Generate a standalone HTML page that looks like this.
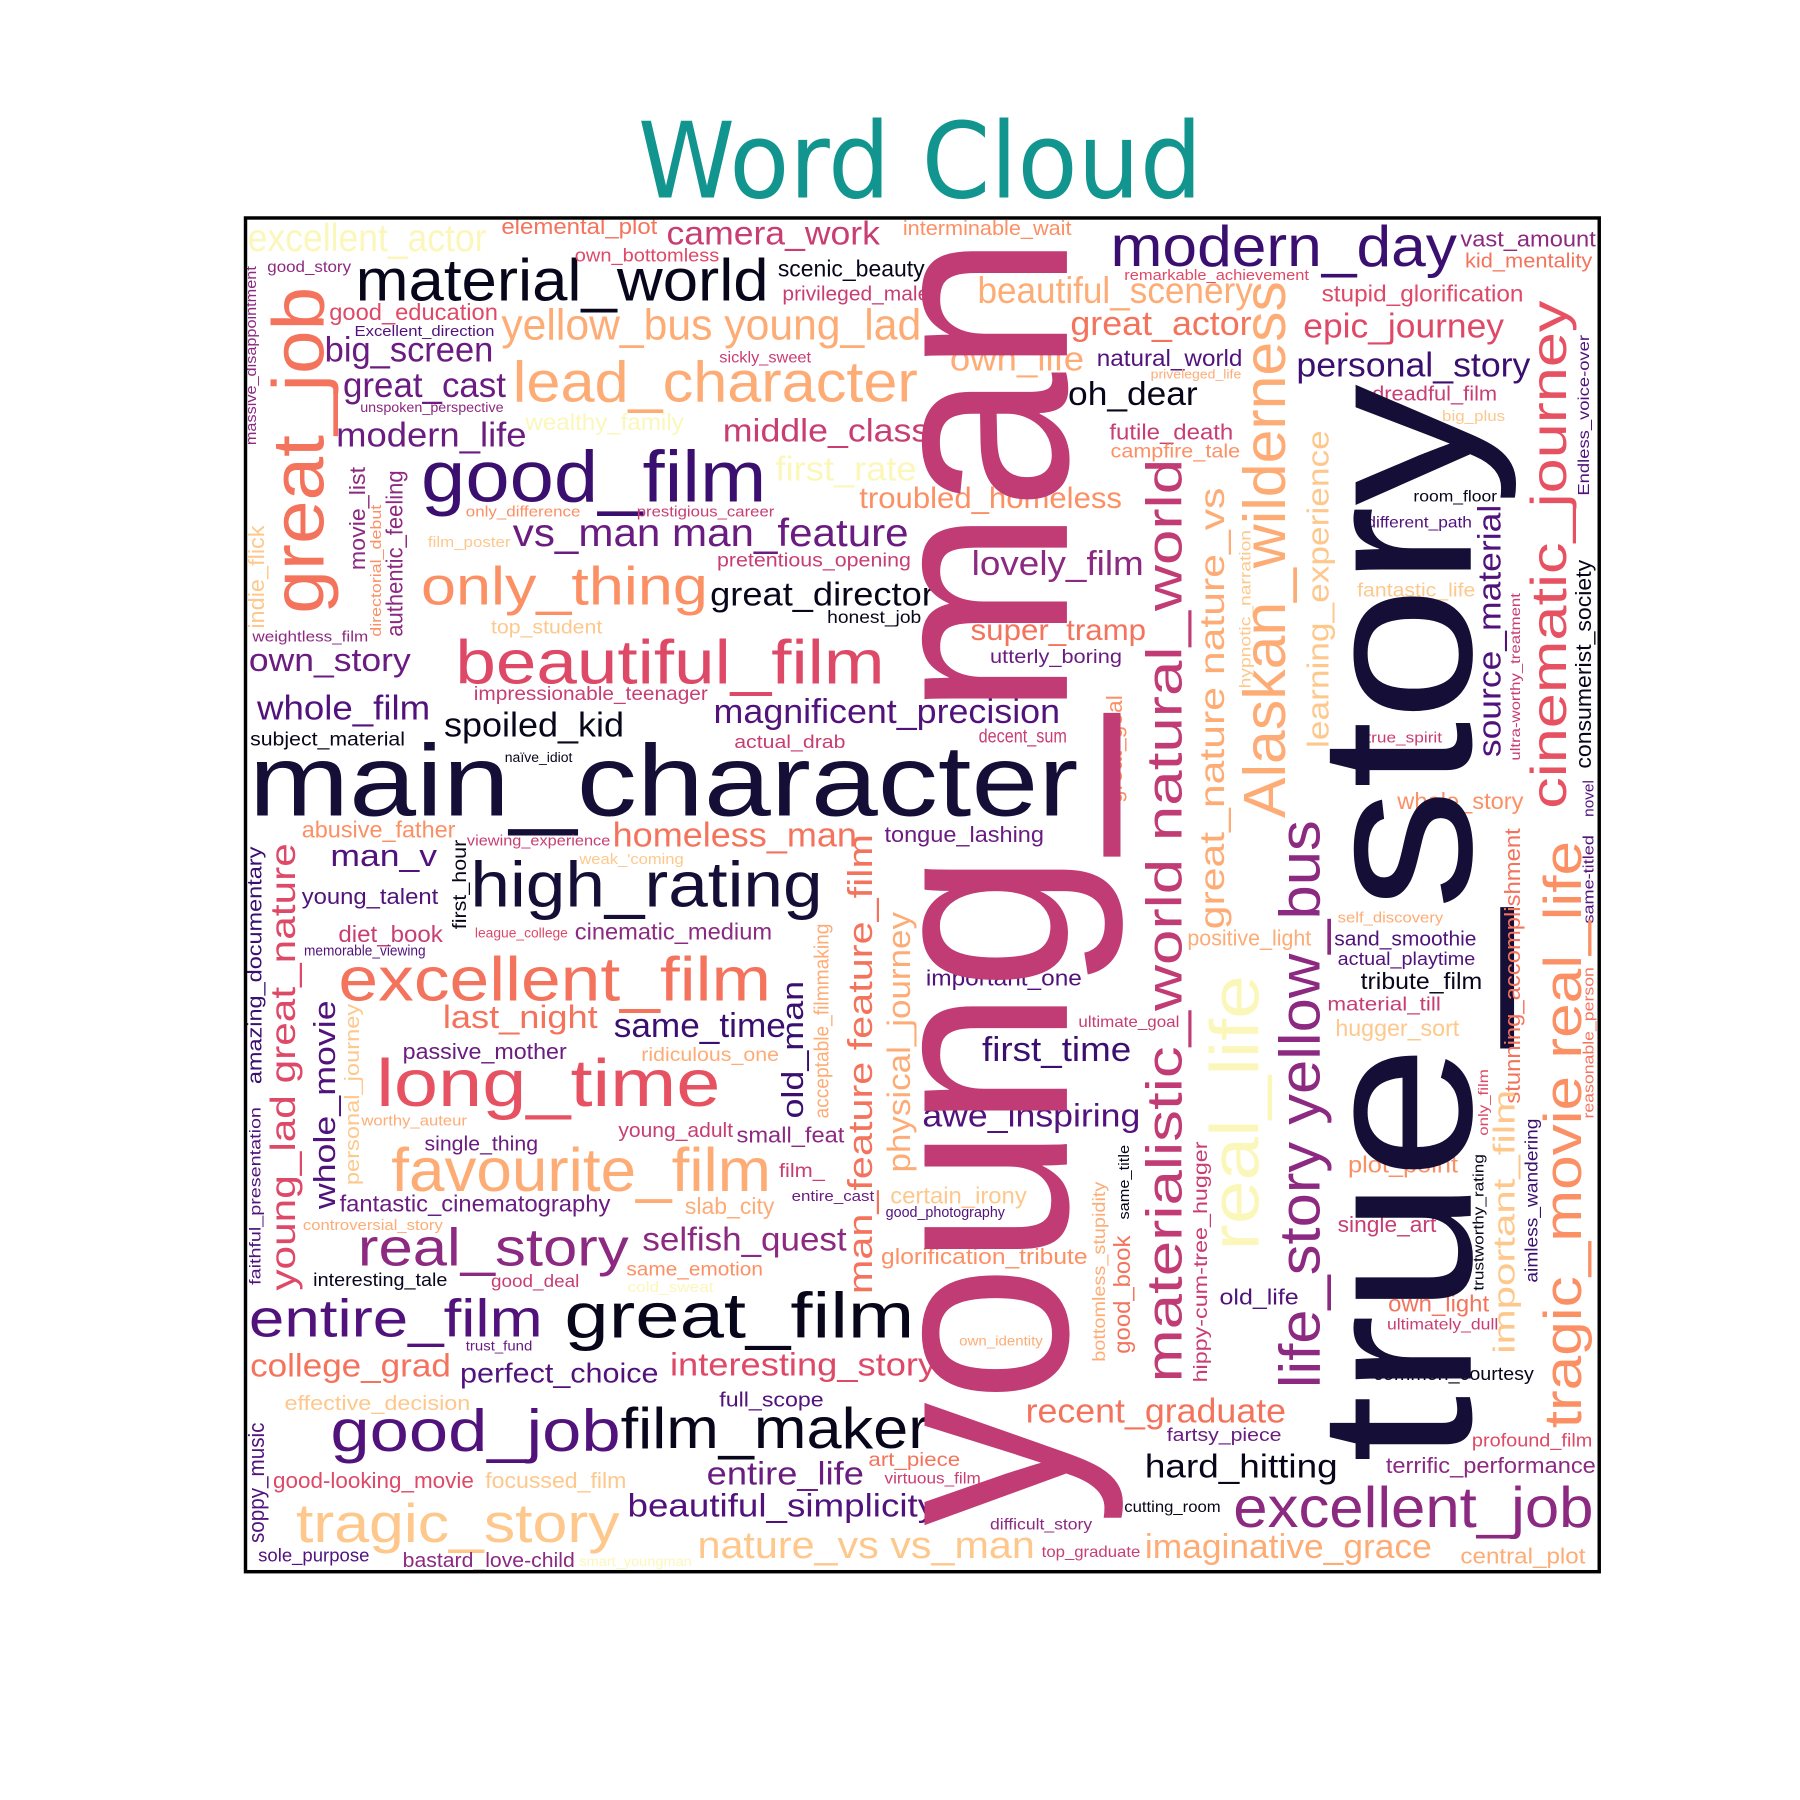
<!DOCTYPE html>
<html><head><meta charset="utf-8">
<style>
html,body{margin:0;padding:0;background:#fff;width:1800px;height:1800px;overflow:hidden}
svg{display:block}
text{font-family:"Liberation Sans","DejaVu Sans",sans-serif}
</style></head>
<body>
<svg id="chart" width="1800" height="1800" viewBox="0 0 1569 1569" xmlns="http://www.w3.org/2000/svg">
<rect x="0" y="0" width="1569" height="1569" fill="#fff"/>
<text x="802" y="172" text-anchor="middle" font-size="92" fill="#12958f" textLength="492" lengthAdjust="spacingAndGlyphs" style="font-family:'DejaVu Sans','Liberation Sans',sans-serif">Word Cloud</text>
<g id="words"></g>
<rect x="214" y="190" width="1180" height="1180" fill="none" stroke="#000" stroke-width="3"/>
</svg>
<script>
const C={D:"#150e37",K:"#08061a",P1:"#3b0f70",P2:"#51127c",P3:"#6a1c81",M1:"#8c2981",M2:"#c13b75",R1:"#c83e73",R2:"#de4968",R3:"#e75263",O1:"#f4735c",O2:"#fc9065",O3:"#feac76",Y1:"#fec88c",Y2:"#fbf7bb"};
// horizontal words: text, left x, baseline y, size, color, width
const hText=["excellent_actor","elemental_plot","camera_work","interminable_wait","modern_day","vast_amount","kid_mentality","good_story","material_world","own_bottomless","scenic_beauty","privileged_male","remarkable_achievement","beautiful_scenery","stupid_glorification","good_education","Excellent_direction","yellow_bus young_lad","great_actor","epic_journey","big_screen","sickly_sweet","own_life","natural_world","personal_story","priveleged_life","great_cast","lead_character","oh_dear","dreadful_film","unspoken_perspective","big_plus","wealthy_family","modern_life","middle_class","futile_death","campfire_tale","good_film","first_rate","troubled_homeless","room_floor","only_difference","prestigious_career","different_path","film_poster","vs_man man_feature","pretentious_opening","lovely_film","only_thing","great_director","fantastic_life","honest_job","top_student","super_tramp","weightless_film","own_story","beautiful_film","utterly_boring","impressionable_teenager","whole_film","magnificent_precision","spoiled_kid","true_spirit","subject_material","actual_drab","decent_sum","naïve_idiot","main_character","whole_story","abusive_father","viewing_experience","homeless_man","tongue_lashing","man_v","weak_'coming","high_rating","young_talent","self_discovery","diet_book","league_college","cinematic_medium","positive_light","sand_smoothie","memorable_viewing","actual_playtime","excellent_film","important_one","tribute_film","material_till","last_night","same_time","ultimate_goal","hugger_sort","first_time","passive_mother","ridiculous_one","long_time","awe_inspiring","worthy_auteur","young_adult","small_feat","single_thing","plot_point","favourite_film","film_","entire_cast","certain_irony","fantastic_cinematography","slab_city","good_photography","single_art","controversial_story","real_story","selfish_quest","glorification_tribute","same_emotion","interesting_tale","good_deal","cold_sweat","old_life","own_light","entire_film","great_film","ultimately_dull","trust_fund","own_identity","college_grad","perfect_choice","interesting_story","common_courtesy","effective_decision","full_scope","recent_graduate","fartsy_piece","good_job","film_maker","profound_film","art_piece","terrific_performance","hard_hitting","good-looking_movie","focussed_film","entire_life","virtuous_film","excellent_job","beautiful_simplicity","cutting_room","tragic_story","difficult_story","nature_vs vs_man","top_graduate","imaginative_grace","central_plot","sole_purpose","bastard_love-child","smart_youngman"];
const hX=[216,437,581,787,968,1273,1277,233,310,501,678,682,980,852,1152,287,309,437,933,1136,283,627,828,956,1130,1003,299,447,931,1196,314,1257,458,293,630,967,968,367,676,749,1232,406,555,1191,373,447,625,847,367,619,1183,721,428,846,220,217,397,863,413,224,622,387,1191,218,640,853,440,217,1218,263,407,534,771,288,505,410,263,1166,295,414,501,1035,1163,265,1166,295,807,1186,1157,386,535,940,1164,856,351,559,328,804,315,539,642,370,1175,341,679,690,776,296,597,772,1166,264,312,560,768,546,273,428,547,1063,1210,217,492,1209,406,836,218,401,584,1197,248,627,894,1017,288,541,1283,757,1208,998,238,423,616,771,1075,547,980,258,863,608,908,998,1273,225,351,505];
const hY=[219,204,213,205,232,215,233,237,262,228,241,262,244,264,263,279,293,296,292,294,315,316,323,319,328,330,346,350,353,349,359,367,375,389,385,383,399,437,419,443,437,450,450,460,477,476,494,501,527,528,520,543,552,558,559,585,596,578,610,627,630,642,647,650,652,647,664,711,705,730,737,738,734,755,753,790,788,804,821,817,819,824,824,833,841,872,859,862,881,896,904,895,903,925,923,925,964,982,981,991,996,1003,1022,1038,1026,1047,1049,1056,1058,1061,1074,1072,1103,1090,1102,1112,1121,1122,1126,1137,1143,1165,1166,1159,1177,1173,1200,1205,1199,1203,1229,1226,1240,1256,1265,1262,1261,1278,1284,1288,1297,1297,1294,1293,1331,1322,1318,1344,1333,1358,1357,1358,1363,1361,1366,1365];
const hSize=[34,19,29,18,50,19,18,14,52,16,20,18,13,32,20,20,13,38,30,30,31,14,30,20,30,11,31,50,29,18,12,13,20,30,28,19,17,63,30,26,14,13,13,14,13,34,17,30,47,29,17,15,17,26,13,28,54,17,17,30,30,30,13,17,16,17,12,88,20,20,13,30,19,27,13,56,19,13,20,12,20,19,18,13,16,54,19,20,17,28,30,14,20,30,19,17,58,28,13,18,19,18,20,53,17,13,20,20,20,13,19,13,46,29,19,17,16,15,13,19,20,46,56,14,12,12,28,24,28,16,18,18,30,16,52,50,16,17,19,29,19,19,28,14,50,28,14,48,14,33,14,30,19,16,18,12];
const hColor=["Y2","O1","R1","O2","P1","M1","O1","M1","K","R2","K","R1","R2","O3","R2","R2","P2","O3","O1","R2","P3","R1","O3","P2","P1","O3","P3","O3","K","R1","M1","Y1","Y2","P3","R1","R1","O2","P1","Y2","O2","K","O2","R1","P2","Y1","P3","R1","M1","O2","K","Y1","K","Y1","O1","M1","P3","R2","P3","R1","P2","P2","K","R1","K","R1","R1","K","D","O2","O2","R1","O1","P3","P2","Y1","D","P2","O3","R1","R2","M1","O3","P2","P2","P2","O1","P2","K","R1","O1","P1","R1","Y1","P1","P3","O3","R3","P2","O3","R1","M1","P3","O2","O3","R1","P3","Y1","P3","O3","P2","R1","O3","M1","M1","O2","O2","K","R1","Y2","P2","O1","P2","K","R1","P3","O3","O1","P2","R2","K","Y1","P2","O1","P3","P2","K","R2","O1","M1","K","R2","Y1","P3","R1","M1","P2","K","Y1","M1","Y1","R1","O3","O3","P2","M1","Y2"];
const hLen=[208,136,186,147,302,118,111,73,360,126,128,128,161,240,176,147,122,366,158,175,147,80,117,127,204,79,142,353,113,109,125,55,138,166,180,108,113,301,123,229,73,100,120,92,72,345,169,150,250,195,103,82,97,153,101,141,374,115,204,151,302,157,66,135,97,77,59,723,110,134,125,213,139,93,91,307,119,92,91,81,172,108,124,106,120,377,136,106,99,135,150,88,108,130,143,120,300,190,92,100,94,99,96,331,40,72,119,236,78,104,86,122,236,178,180,119,117,77,75,69,88,256,305,97,58,73,175,173,232,140,162,91,227,100,253,269,105,80,183,168,175,123,137,84,314,269,84,282,89,294,86,250,109,97,150,98];
// vertical words (read bottom to top): text, baseline x, bottom y, size, color, length
const vText=["great_job","massive_disappointment","indie_flick","movie_list","directorial_debut","authentic_feeling","amazing_documentary","young_lad great_nature","faithful_presentation","whole_movie","personal_journey","first_hour","man_feature feature_film","old_man","acceptable_filmmaking","physical_journey","soppy_music","great_goal","materialistic_world natural_world","great_nature nature_vs","hypnotic_narration","Alaskan_wilderness","learning_experience","real_life","life_story yellow_bus","hippy-cum-tree_hugger","bottomless_stupidity","good_book","same_title","true_story","young_man","source_material","ultra-worthy_treatment","cinematic_journey","Endless_voice-over","consumerist_society","novel","same-titled","reasonable_person","stunning_accomplishment","tragic_movie real_life","only_film","important_film","trustworthy_rating","aimless_wandering"];
const vX=[282,223,230,318,332,351,228,257,227,292,313,406,760,700,722,793,230,978,1030,1067,1090,1120,1158,1097,1150,1052,963,985,984,1282,930,1308,1325,1365,1385,1387,1389,1389,1389,1325,1378,1297,1320,1293,1340];
const vY=[535,388,548,497,555,555,945,1125,1120,1054,1033,810,1128,975,975,1022,1345,700,1205,810,600,713,652,1090,1210,1205,1187,1180,1063,1275,1330,660,663,705,432,670,712,805,975,962,1245,990,1180,1125,1118];
const vSize=[64,13,19,19,13,20,18,31,14,27,18,17,30,27,18,28,19,19,44,31,14,52,27,60,50,17,15,20,13,190,235,28,12,44,14,19,13,13,13,19,46,12,27,13,15];
const vColor=["O1","M1","Y1","M1","O2","M1","P1","R2","P2","P2","Y1","K","O1","P1","O3","O3","P2","O2","M2","O3","Y1","O3","Y1","Y2","M1","R1","O3","O1","K","D","M2","P2","R1","R3","P2","K","P2","P2","O1","O1","O2","R2","Y1","K","P1"];
const vLen=[285,156,90,90,115,145,207,390,155,182,158,78,401,120,170,227,105,94,805,385,138,468,277,240,495,210,157,103,65,940,1125,220,146,443,140,182,32,77,132,240,512,58,230,119,143];

const NS="http://www.w3.org/2000/svg";
const g=document.getElementById("words");
function slug(t){return t.toLowerCase().replace(/[^a-z0-9]+/g,"-").replace(/^-|-$/g,"");}
for(let i=0;i<hText.length;i++){
  const t=document.createElementNS(NS,"text");
  t.setAttribute("x",hX[i]);t.setAttribute("y",hY[i]);
  t.setAttribute("font-size",hSize[i]);t.setAttribute("fill",C[hColor[i]]);
  t.setAttribute("textLength",hLen[i]);t.setAttribute("lengthAdjust","spacingAndGlyphs");
  t.textContent=hText[i];
  
  
  g.appendChild(t);
}
for(let i=0;i<vText.length;i++){
  const t=document.createElementNS(NS,"text");
  t.setAttribute("x",0);t.setAttribute("y",0);
  t.setAttribute("transform","translate("+vX[i]+","+vY[i]+") rotate(-90)");
  t.setAttribute("font-size",vSize[i]);t.setAttribute("fill",C[vColor[i]]);
  t.setAttribute("textLength",vLen[i]);t.setAttribute("lengthAdjust","spacingAndGlyphs");
  t.textContent=vText[i];
  
  
  g.appendChild(t);
}
</script>
</body></html>
